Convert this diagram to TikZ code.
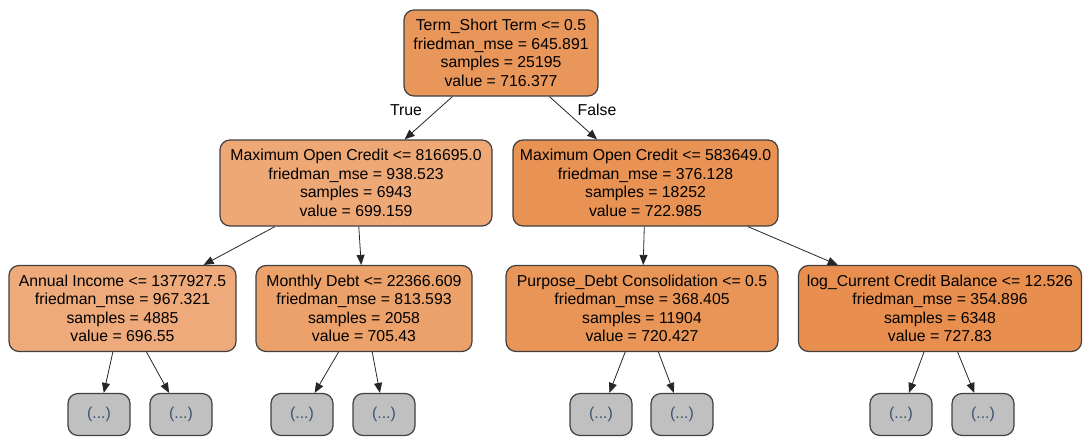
\documentclass[tikz,border=0pt]{standalone}
\usepackage{fontspec}
\setmainfont{Liberation Sans}
\usetikzlibrary{arrows.meta}
\definecolor{nroot}{HTML}{E9965A}
\definecolor{ntrue}{HTML}{EDA876}
\definecolor{nfalse}{HTML}{E89253}
\definecolor{nincome}{HTML}{EEAA7A}
\definecolor{ndebt}{HTML}{EBA169}
\definecolor{npurpose}{HTML}{E99557}
\definecolor{nbalance}{HTML}{E88F4F}
\definecolor{nleaf}{HTML}{C0C0C0}
\definecolor{nedge}{HTML}{404040}
\definecolor{ndots}{HTML}{3D5275}
\tikzset{
  split/.style={draw=nedge, line width=1.2pt, rounded corners=10pt, align=center,
    minimum height=86pt, inner sep=0pt,
    font=\fontsize{15.8}{18.5}\selectfont},
  leaf/.style={draw=nedge, line width=1.2pt, rounded corners=10pt, fill=nleaf,
    minimum width=62pt, minimum height=42pt, inner sep=0pt,
    text=ndots, font=\fontsize{15.8}{18}\selectfont},
  branch/.style={-{Triangle[length=10pt,width=8pt]}, line width=0.8pt, black!85}
}
\begin{document}
\begin{tikzpicture}[x=1pt,y=-1pt]
\useasboundingbox (0,0) rectangle (1084,437);
% Level 0
\node[split, fill=nroot, minimum width=194pt] (root) at (501,53)
  {Term\_Short Term <= 0.5\\friedman\_mse = 645.891\\samples = 25195\\value = 716.377};
% Level 1
\node[split, fill=ntrue, minimum width=272pt] (credA) at (356,183)
  {Maximum Open Credit <= 816695.0\\friedman\_mse = 938.523\\samples = 6943\\value = 699.159};
\node[split, fill=nfalse, minimum width=265pt] (credB) at (645.5,183)
  {Maximum Open Credit <= 583649.0\\friedman\_mse = 376.128\\samples = 18252\\value = 722.985};
% Level 2
\node[split, fill=nincome, minimum width=227pt] (income) at (122.5,308.5)
  {Annual Income <= 1377927.5\\friedman\_mse = 967.321\\samples = 4885\\value = 696.55};
\node[split, fill=ndebt, minimum width=216pt] (debt) at (364,308.5)
  {Monthly Debt <= 22366.609\\friedman\_mse = 813.593\\samples = 2058\\value = 705.43};
\node[split, fill=npurpose, minimum width=272pt] (purpose) at (642,308.5)
  {Purpose\_Debt Consolidation <= 0.5\\friedman\_mse = 368.405\\samples = 11904\\value = 720.427};
\node[split, fill=nbalance, minimum width=283pt] (balance) at (940,308.5)
  {log\_Current Credit Balance <= 12.526\\friedman\_mse = 354.896\\samples = 6348\\value = 727.83};
% Level 3: truncated subtrees
\node[leaf] (incomeL) at (99,414.5) {(...)};
\node[leaf] (incomeR) at (181,414.5) {(...)};
\node[leaf] (debtL) at (302,414.5) {(...)};
\node[leaf] (debtR) at (384,414.5) {(...)};
\node[leaf] (purposeL) at (601,414.5) {(...)};
\node[leaf] (purposeR) at (682,414.5) {(...)};
\node[leaf] (balanceL) at (901,414.5) {(...)};
\node[leaf] (balanceR) at (983,414.5) {(...)};
% Edges
\draw[branch] (root) -- (credA);
\draw[branch] (root) -- (credB);
\node[font=\fontsize{15.8}{18}\selectfont] (truelbl) at (406,110) {True};
\node[font=\fontsize{15.8}{18}\selectfont] (falselbl) at (597,110) {False};
\draw[branch] (credA) -- (income);
\draw[branch] (credA) -- (debt);
\draw[branch] (credB) -- (purpose);
\draw[branch] (credB) -- (balance);
\draw[branch] (income) -- (incomeL);
\draw[branch] (income) -- (incomeR);
\draw[branch] (debt) -- (debtL);
\draw[branch] (debt) -- (debtR);
\draw[branch] (purpose) -- (purposeL);
\draw[branch] (purpose) -- (purposeR);
\draw[branch] (balance) -- (balanceL);
\draw[branch] (balance) -- (balanceR);
\end{tikzpicture}
\end{document}
